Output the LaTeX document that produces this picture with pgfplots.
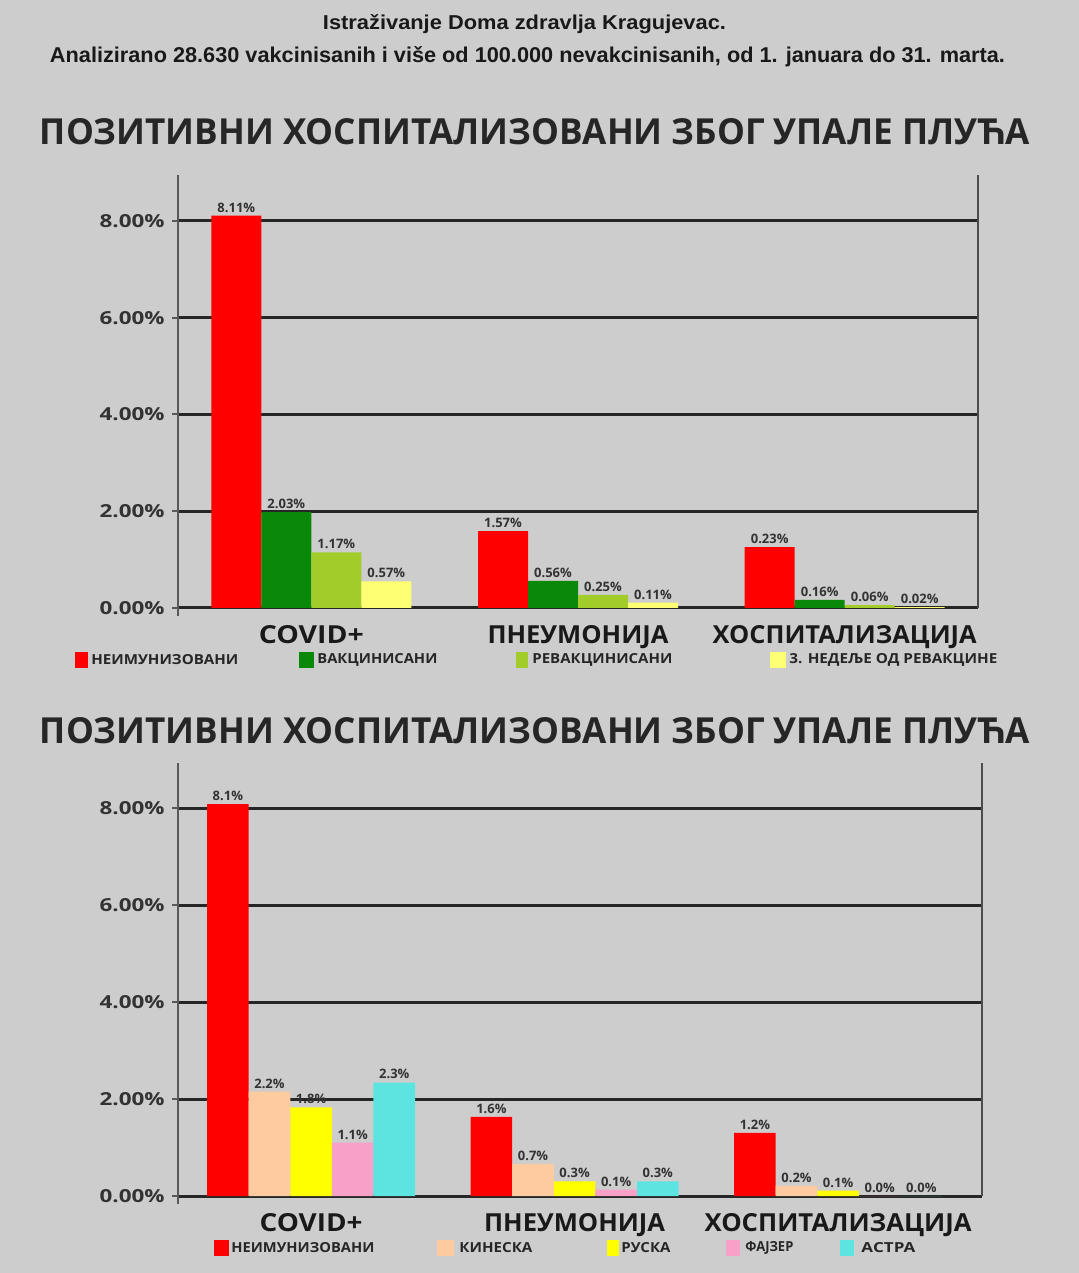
\documentclass[border=0pt]{standalone}
\usepackage{pgfplots}
\pgfplotsset{compat=1.18}
\usepackage{graphicx}
\usepackage{fontspec}
\setmainfont{Open Sans}
\newfontfamily\hdr{Liberation Sans}
\definecolor{bg}{HTML}{CDCDCD}
\definecolor{cRed}{HTML}{FF0000}
\definecolor{cGreen}{HTML}{0A880A}
\definecolor{cLime}{HTML}{A2CC2A}
\definecolor{cPale}{HTML}{FFFF73}
\definecolor{cPeach}{HTML}{FDCB9F}
\definecolor{cYel}{HTML}{FFFF00}
\definecolor{cPink}{HTML}{F7A1C8}
\definecolor{cCyan}{HTML}{5CE5E0}
\newcommand{\fit}[3]{\resizebox{#1}{#2}{#3}}
\newcommand{\legitem}[7]{%
  \fill[#1] (#2pt,#4pt-4pt) rectangle (#3pt,#4pt+4pt);
  \node[anchor=west, inner sep=0pt, text=black!85] at (#5pt,#4pt) {\fit{#6pt}{5pt}{\bfseries #7}};
}
\pgfplotsset{myax/.style={
  scale only axis, ybar=0pt, ymin=0,
  xtick={0,1,2}, ytick={0,2,4,6,8},
  yticklabels={\fit{32.5pt}{6.5pt}{\bfseries 0.00\%},\fit{32.5pt}{6.5pt}{\bfseries 2.00\%},\fit{32.5pt}{6.5pt}{\bfseries 4.00\%},\fit{32.5pt}{6.5pt}{\bfseries 6.00\%},\fit{32.5pt}{6.5pt}{\bfseries 8.00\%}},
  axis x line*=bottom, axis y line*=left,
  x axis line style={line width=1.3pt, draw=black!85, -},
  y axis line style={line width=1pt, draw=black!65, -},
  ymajorgrids, grid style={line width=1.5pt, draw=black!85},
  x tick style={draw=none}, y tick style={line width=1pt, draw=black!65},
  tick align=outside, major tick length=3pt,
  clip=false,
  nodes near coords, point meta=explicit symbolic,
  every node near coord/.append style={font=\bfseries\fontsize{6.5}{7}\selectfont, text=black!80, inner sep=1.5pt},
  xticklabel style={anchor=base, inner sep=0pt, yshift=-15pt, text=black!90},
  yticklabel style={anchor=east, inner sep=0pt, xshift=-3.5pt, text=black!80},
}}
\begin{document}
\begin{tikzpicture}
\useasboundingbox (0,0) rectangle (539.5pt,636.5pt);
\fill[bg] (0,0) rectangle (539.5pt,636.5pt);
% header
\node[anchor=base, inner sep=0pt, text=black!90] at (262.25pt,621.5pt) {\fit{201.5pt}{7.5pt}{\hdr\bfseries Istraživanje Doma zdravlja Kragujevac.}};
\node[anchor=base, inner sep=0pt, text=black!90] at (263.75pt,605pt) {\fit{477.5pt}{8pt}{\hdr\bfseries Analizirano 28.630 vakcinisanih i više od 100.000 nevakcinisanih, od 1. januara do 31. marta.}};
% titles
\node[anchor=base, inner sep=0pt, text=black!85] at (267.5pt,564pt) {\fit{495pt}{13pt}{\bfseries ПОЗИТИВНИ ХОСПИТАЛИЗОВАНИ ЗБОГ УПАЛЕ ПЛУЋА}};
\node[anchor=base, inner sep=0pt, text=black!85] at (267.5pt,264.5pt) {\fit{495pt}{13pt}{\bfseries ПОЗИТИВНИ ХОСПИТАЛИЗОВАНИ ЗБОГ УПАЛЕ ПЛУЋА}};

% top chart
\begin{axis}[myax, at={(89pt,332.5pt)}, anchor=south west,
  width=400pt, height=216.5pt, xmin=-0.5, xmax=2.5, ymax=8.95, bar width=25pt,
  xticklabels={\fit{52.5pt}{9pt}{\bfseries COVID+},\fit{90.5pt}{9pt}{\bfseries ПНЕУМОНИЈА},\fit{132pt}{9pt}{\bfseries ХОСПИТАЛИЗАЦИЈА}}]
\addplot[fill=cRed, draw=none] coordinates {(0,8.11) [8.11\%] (1,1.59) [1.57\%] (2,1.26) [0.23\%]};
\addplot[fill=cGreen, draw=none] coordinates {(0,1.98) [2.03\%] (1,0.56) [0.56\%] (2,0.17) [0.16\%]};
\addplot[fill=cLime, draw=none] coordinates {(0,1.15) [1.17\%] (1,0.27) [0.25\%] (2,0.06) [0.06\%]};
\addplot[fill=cPale, draw=none] coordinates {(0,0.55) [0.57\%] (1,0.11) [0.11\%] (2,0.02) [0.02\%]};
\draw[line width=1.3pt, black!70] (rel axis cs:1,0) -- (rel axis cs:1,1);
\draw[line width=1pt, black!65] (rel axis cs:0,0) -- ([yshift=-4pt]rel axis cs:0,0);
\end{axis}
\legitem{cRed}{37.5}{44}{306.5}{45.5}{73.5}{НЕИМУНИЗОВАНИ}
\legitem{cGreen}{149.5}{157}{306.5}{158.5}{60}{ВАКЦИНИСАНИ}
\legitem{cLime}{258}{264}{306.5}{266}{70}{РЕВАКЦИНИСАНИ}
\legitem{cPale}{385}{393}{306.5}{394.5}{104}{3. НЕДЕЉЕ ОД РЕВАКЦИНЕ}

% bottom chart
\begin{axis}[myax, at={(89pt,38.5pt)}, anchor=south west,
  width=402pt, height=216.5pt, xmin=-0.505, xmax=2.546, ymax=8.93, bar width=20.8pt,
  xticklabels={\fit{51.5pt}{9pt}{\bfseries COVID+},\fit{90.5pt}{9pt}{\bfseries ПНЕУМОНИЈА},\fit{133.5pt}{9pt}{\bfseries ХОСПИТАЛИЗАЦИЈА}}]
\addplot[fill=cRed, draw=none] coordinates {(0,8.08) [8.1\%] (1,1.63) [1.6\%] (2,1.30) [1.2\%]};
\addplot[fill=cPeach, draw=none] coordinates {(0,2.15) [2.2\%] (1,0.66) [0.7\%] (2,0.21) [0.2\%]};
\addplot[fill=cYel, draw=none] coordinates {(0,1.83) [1.8\%] (1,0.30) [0.3\%] (2,0.11) [0.1\%]};
\addplot[fill=cPink, draw=none] coordinates {(0,1.10) [1.1\%] (1,0.13) [0.1\%] (2,0.0) [0.0\%]};
\addplot[fill=cCyan, draw=none] coordinates {(0,2.34) [2.3\%] (1,0.30) [0.3\%] (2,0.0) [0.0\%]};
\draw[line width=1.3pt, black!70] (rel axis cs:1,0) -- (rel axis cs:1,1);
\draw[line width=1pt, black!65] (rel axis cs:0,0) -- ([yshift=-4pt]rel axis cs:0,0);
\end{axis}
\legitem{cRed}{107}{114.5}{12.5}{115.5}{71.5}{НЕИМУНИЗОВАНИ}
\legitem{cPeach}{218.5}{227}{12.5}{229.5}{36.5}{КИНЕСКА}
\legitem{cYel}{303.5}{309.5}{12.5}{310.5}{24.5}{РУСКА}
\legitem{cPink}{363}{370}{12.5}{372.5}{24}{ФАЈЗЕР}
\legitem{cCyan}{420}{427}{12.5}{430.5}{27}{АСТРА}
\end{tikzpicture}
\end{document}
